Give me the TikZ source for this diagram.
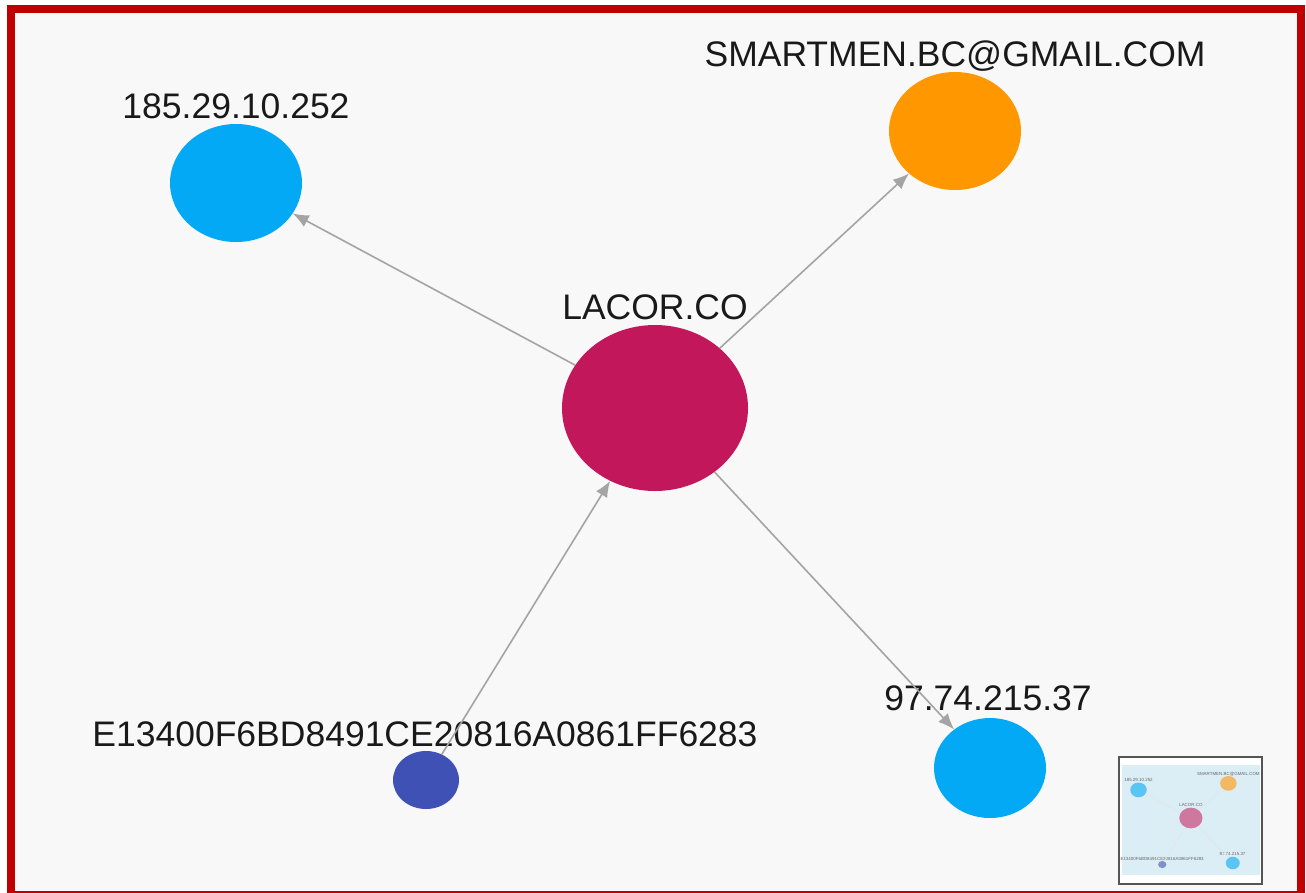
\documentclass[tikz,border=0pt]{standalone}
\usepackage{fontspec}
\setmainfont{Liberation Sans}
\usetikzlibrary{shapes.geometric,arrows.meta}
\definecolor{frame}{HTML}{C00000}
\definecolor{bg}{HTML}{F8F8F8}
\definecolor{ipblue}{HTML}{03A9F4}
\definecolor{mailorange}{HTML}{FF9800}
\definecolor{domcrimson}{HTML}{C2185B}
\definecolor{hashblue}{HTML}{3F51B5}
\definecolor{edgegray}{HTML}{A4A4A4}
\definecolor{minibg}{HTML}{DCEEF5}
\definecolor{miniframe}{HTML}{555555}
\begin{document}
\begin{tikzpicture}[x=1pt,y=-1pt,
  blob/.style={ellipse,draw=none,inner sep=0pt},
  lbl/.style={font=\fontsize{35.5}{40}\selectfont,text=black!90,inner sep=0pt,anchor=base},
  link/.style={draw=edgegray,line width=1.6pt,-{Latex[length=16pt,width=13pt]}},
  minilink/.style={draw=white!70!edgegray,line width=0.5pt}]
\useasboundingbox (0,0) rectangle (1306,892);
\fill[white] (0,0) rectangle (1306,892);
\fill[bg] (11,9) rectangle (1301,895);
\begin{scope}
\clip (0,0) rectangle (1306,892);
\draw[frame,line width=8pt] (11,9) rectangle (1301,895);
\end{scope}

% main graph
\node[blob,fill=domcrimson,minimum width=186pt,minimum height=166pt] (lacor) at (655,408) {};
\node[blob,fill=ipblue,minimum width=132pt,minimum height=118pt] (ipa) at (236,183) {};
\node[blob,fill=mailorange,minimum width=132pt,minimum height=118pt] (mail) at (955,131) {};
\node[blob,fill=ipblue,minimum width=112pt,minimum height=100pt] (ipb) at (990,768) {};
\node[blob,fill=hashblue,minimum width=66pt,minimum height=58pt] (hash) at (426,780) {};

\node[lbl] (lacorl) at (655,319) {LACOR.CO};
\node[lbl] (ipal) at (236,118) {185.29.10.252};
\node[lbl] (maill) at (955,66) {SMARTMEN.BC@GMAIL.COM};
\node[lbl] (ipbl) at (988,710) {97.74.215.37};
\node[lbl] (hashl) at (425,746) {E13400F6BD8491CE20816A0861FF6283};

\draw[link] (lacor) -- (ipa);
\draw[link] (lacor) -- (mail);
\draw[link] (lacor) -- (ipb);
\draw[link] (hash) -- (lacor);

% minimap
\draw[miniframe,line width=2pt,fill=white] (1119,757) rectangle (1262,884);
\fill[minibg] (1122,765) rectangle (1260,875);
\begin{scope}[shift={(1109,767)},scale=0.125,transform shape]
\node[blob,fill=domcrimson!55!minibg,minimum width=186pt,minimum height=166pt] (mlacor) at (655,408) {};
\node[blob,fill=ipblue!60!minibg,minimum width=132pt,minimum height=118pt] (mipa) at (236,183) {};
\node[blob,fill=mailorange!60!minibg,minimum width=132pt,minimum height=118pt] (mmail) at (955,131) {};
\node[blob,fill=ipblue!60!minibg,minimum width=112pt,minimum height=100pt] (mipb) at (990,768) {};
\node[blob,fill=hashblue!60!minibg,minimum width=66pt,minimum height=58pt] (mhash) at (426,780) {};
\node[lbl,text=black!60] (mlacorl) at (655,319) {LACOR.CO};
\node[lbl,text=black!60] (mipal) at (236,118) {185.29.10.252};
\node[lbl,text=black!60] (mmaill) at (955,66) {SMARTMEN.BC@GMAIL.COM};
\node[lbl,text=black!60] (mipbl) at (988,710) {97.74.215.37};
\node[lbl,text=black!60] (mhashl) at (425,746) {E13400F6BD8491CE20816A0861FF6283};
\end{scope}
\draw[minilink] (mlacor) -- (mipa);
\draw[minilink] (mlacor) -- (mmail);
\draw[minilink] (mlacor) -- (mipb);
\draw[minilink] (mhash) -- (mlacor);
\end{tikzpicture}
\end{document}
